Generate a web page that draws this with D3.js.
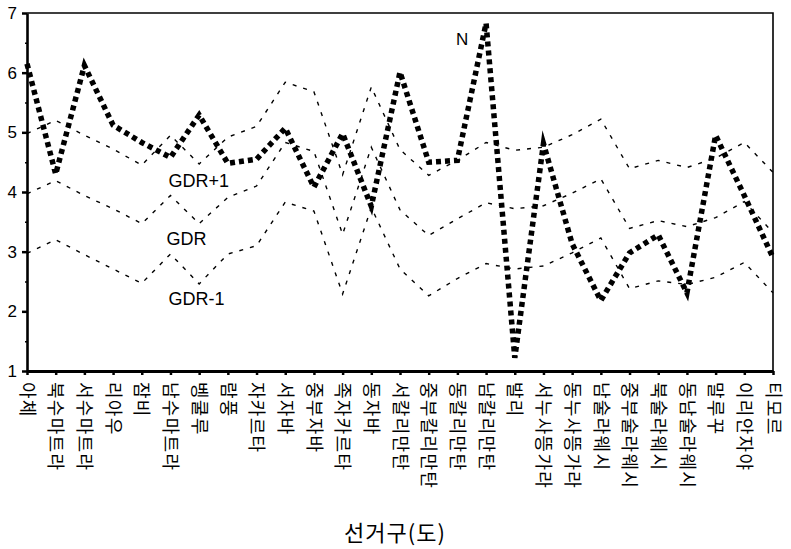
<!DOCTYPE html>
<html>
<head>
<meta charset="utf-8">
<script src="https://cdn.jsdelivr.net/npm/d3@7"></script>
<style>
body{margin:0;background:#fff}
.axis text{font-family:"Liberation Sans",Arial,sans-serif;font-size:17px;fill:#000}
.axis .domain,.axis line{stroke:#000}
.x-axis text{font-family:"Noto Sans CJK KR",sans-serif;font-size:18px}
</style>
</head>
<body>
<div class="chart"></div>
<script>
// 27 provinces, left to right
const provinces = ["아체","북수마트라","서수마트라","리아우","잠비","남수마트라","벵쿨루","람풍",
  "자카르타","서자바","중부자바","족자카르타","동자바","서칼리만탄","중부칼리만탄","동칼리만탄",
  "남칼리만탄","발리","서누사뜽가라","동누사뜽가라","남술라웨시","중부술라웨시","북술라웨시",
  "동남술라웨시","말루꾸","이리안자야","티모르"];

const nValues = [6.15,4.30,6.12,5.12,4.83,4.58,5.29,4.48,4.55,5.07,4.08,4.98,3.76,6.01,
  4.50,4.53,6.83,1.22,4.81,3.13,2.18,2.98,3.28,2.31,4.95,3.94,2.90];

const gdrUpper = [4.98,5.20,4.95,4.72,4.45,4.95,4.47,4.92,5.10,5.84,5.68,4.29,5.76,4.71,
  4.28,4.53,4.83,4.70,4.75,4.96,5.22,4.39,4.53,4.41,4.57,4.83,4.33];

const gdrValues = [3.97,4.19,3.94,3.72,3.47,3.94,3.47,3.91,4.10,4.83,4.68,3.29,4.75,3.70,
  3.27,3.55,3.82,3.72,3.77,3.98,4.22,3.39,3.52,3.42,3.57,3.84,3.32];

const gdrLower = [2.97,3.20,2.95,2.71,2.47,2.96,2.46,2.96,3.10,3.83,3.68,2.29,3.74,2.71,
  2.26,2.55,2.80,2.71,2.76,2.98,3.23,2.38,2.51,2.45,2.57,2.82,2.31];

const yTicks = [1,2,3,4,5,6,7];
const yMinor = [1.5,2.5,3.5,4.5,5.5,6.5];

const W = 791, H = 549;
const plot = {left: 27, right: 773, top: 13, bottom: 371};

const svg = d3.select(".chart").append("svg")
  .attr("width", W)
  .attr("height", H);

let xScale = d3.scalePoint().domain(provinces).range([plot.left, plot.right]);
let yScale = d3.scaleLinear().domain([1,7]).range([plot.bottom, plot.top]);

// frame top / right
svg.append("path")
  .attr("d", `M${plot.left},${plot.top}H${plot.right}V${plot.bottom}`)
  .attr("fill","none")
  .attr("stroke","#000")
  .attr("stroke-width",1.6);

// minor y ticks
svg.append("g")
  .attr("class","axis")
  .attr("transform",`translate(${plot.left},0)`)
  .call(d3.axisLeft(yScale).tickValues(yMinor).tickSize(2).tickFormat(""))
  .call(g => g.select(".domain").remove())
  .selectAll("line").attr("stroke-width",1.5);

let yAxis = d3.axisLeft(yScale).tickValues(yTicks).tickFormat(d3.format("d"))
  .tickSize(5).tickSizeOuter(0).tickPadding(5);
svg.append("g")
  .attr("class","axis y-axis")
  .attr("transform",`translate(${plot.left},0)`)
  .call(yAxis)
  .call(g => g.select(".domain").attr("stroke-width",2.6))
  .call(g => g.selectAll(".tick line").attr("stroke-width",2.5));

let xAxis = d3.axisBottom(xScale).tickSize(4).tickSizeOuter(0);
svg.append("g")
  .attr("class","axis x-axis")
  .attr("transform",`translate(0,${plot.bottom})`)
  .call(xAxis)
  .call(g => g.select(".domain").attr("stroke-width",2.8))
  .call(g => g.selectAll(".tick line").attr("stroke-width",2.5))
  .call(g => g.selectAll(".tick text")
    .attr("transform","rotate(90)")
    .attr("x",11)
    .attr("y",0)
    .attr("dy","0.38em")
    .attr("letter-spacing","1.3px")
    .style("text-anchor","start"));

const line = d3.line()
  .x((d,i) => xScale(provinces[i]))
  .y(d => yScale(d));

[gdrUpper, gdrValues, gdrLower].forEach(series => {
  svg.append("path")
    .datum(series)
    .attr("d", line)
    .attr("fill","none")
    .attr("stroke","#000")
    .attr("stroke-width",1.4)
    .attr("stroke-dasharray","4,7");
});

svg.append("path")
  .datum(nValues)
  .attr("d", line)
  .attr("fill","none")
  .attr("stroke","#000")
  .attr("stroke-width",5.5)
  .attr("stroke-dasharray","5,4")
  .attr("stroke-linejoin","miter")
  .attr("stroke-miterlimit",8);

// series labels
const seriesLabels = [
  {text:"N", at:16, dx:-30, v:6.46, size:17},
  {text:"GDR+1", at:5, dx:-2, v:4.08, size:18},
  {text:"GDR", at:5, dx:-4, v:3.11, size:18},
  {text:"GDR-1", at:5, dx:-2, v:2.10, size:18}
];
svg.selectAll(".lab")
  .data(seriesLabels)
  .enter()
  .append("text")
  .attr("class","lab")
  .attr("x", d => xScale(provinces[d.at]) + d.dx)
  .attr("y", d => yScale(d.v))
  .attr("font-family","Liberation Sans, Arial, sans-serif")
  .attr("font-size", d => d.size)
  .text(d => d.text);

svg.append("text")
  .attr("x",395)
  .attr("y",541)
  .attr("text-anchor","middle")
  .attr("font-family","Noto Sans CJK KR, sans-serif")
  .attr("font-size",22)
  .attr("letter-spacing","1px")
  .text("선거구(도)");
</script>
</body>
</html>
